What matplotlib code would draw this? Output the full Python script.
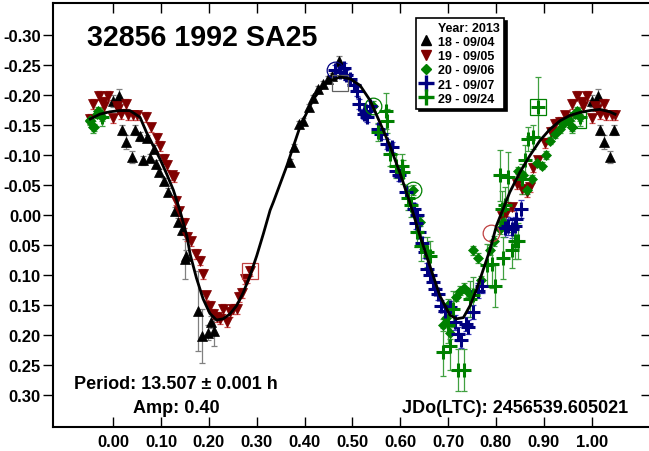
import numpy as np
import matplotlib
matplotlib.use('Agg')
import matplotlib.pyplot as plt
from matplotlib.lines import Line2D

plt.rcParams['font.family'] = ['Liberation Sans', 'DejaVu Sans']
plt.rcParams['font.weight'] = 'bold'

# session 18 - 09/04 (black up triangles)
ph18 = [0.000, 0.013, 0.018, 0.026, 0.039, 0.046, 0.055, 0.063, 0.071, 0.077, 0.085, 0.089,
        0.096, 0.106, 0.115, 0.129, 0.136, 0.144, 0.150, 0.152, 0.178, 0.185, 0.199, 0.204, 0.211,
        0.369, 0.377, 0.389, 0.396, 0.410, 0.418, 0.429, 0.439, 0.450, 0.457, 0.473]
mg18 = [-0.190, -0.198, -0.142, -0.122, -0.097, -0.142, -0.131, -0.091, -0.128, -0.095, -0.110, -0.085,
        -0.071, -0.056, -0.039, -0.007, 0.011, 0.025, 0.073, 0.068, 0.160, 0.201, 0.196, 0.179, 0.193,
        -0.089, -0.113, -0.152, -0.157, -0.180, -0.195, -0.210, -0.218, -0.227, -0.231, -0.257]
er18 = [0.010, 0.012, 0.008, 0.012, 0.010, 0.008, 0.008, 0.008, 0.006, 0.006, 0.006, 0.006,
        0.006, 0.006, 0.006, 0.006, 0.006, 0.008, 0.033, 0.010, 0.067, 0.045, 0.012, 0.010, 0.025,
        0.005, 0.005, 0.005, 0.005, 0.005, 0.005, 0.005, 0.005, 0.005, 0.005, 0.008]

# session 19 - 09/05 (maroon down triangles)
ph19 = [0.812, 0.822, 0.833, 0.845, 0.850, 0.854, 0.864, 0.871, 0.878, 0.888, 0.902, 0.916,
        0.923, 0.934, 0.944, 0.951, 0.958, 0.970, 0.979, 0.981, 0.990,
        0.000, 0.007, 0.011, 0.017, 0.026, 0.031, 0.042, 0.049, 0.069, 0.080, 0.091, 0.098,
        0.106, 0.112, 0.122, 0.127, 0.131, 0.138, 0.147, 0.155, 0.162, 0.174, 0.181, 0.187,
        0.195, 0.202, 0.208, 0.216, 0.223, 0.230, 0.237, 0.244, 0.251, 0.258, 0.264, 0.269,
        0.275, 0.280, 0.286]
mg19 = [0.001, -0.004, -0.013, -0.052, -0.063, -0.043, -0.038, -0.046, -0.079, -0.091, -0.120, -0.138,
        -0.152, -0.155, -0.166, -0.160, -0.185, -0.199, -0.188, -0.181, -0.199,
        -0.161, -0.182, -0.176, -0.168, -0.185, -0.166, -0.166, -0.166, -0.163, -0.146, -0.128, -0.115,
        -0.093, -0.083, -0.066, -0.063, -0.024, -0.006, 0.013, 0.036, 0.044, 0.065, 0.076, 0.098,
        0.134, 0.152, 0.165, 0.170, 0.173, 0.157, 0.178, 0.162, 0.157, 0.157, 0.137, 0.130,
        0.107, 0.106, 0.093]
er19 = [0.006, 0.006, 0.006, 0.008, 0.008, 0.008, 0.008, 0.008, 0.008, 0.008, 0.008, 0.008,
        0.008, 0.008, 0.008, 0.008, 0.008, 0.008, 0.008, 0.008, 0.008,
        0.008, 0.008, 0.008, 0.008, 0.008, 0.008, 0.008, 0.008, 0.008, 0.008, 0.008, 0.008,
        0.008, 0.008, 0.008, 0.008, 0.008, 0.008, 0.008, 0.008, 0.008, 0.008, 0.008, 0.008,
        0.008, 0.008, 0.008, 0.008, 0.008, 0.008, 0.008, 0.008, 0.008, 0.008, 0.008, 0.008,
        0.008, 0.008, 0.008]

# session 20 - 09/06 (green diamonds)
ph20 = [0.544, 0.627, 0.641, 0.690, 0.695, 0.700, 0.704, 0.716, 0.725, 0.733, 0.742, 0.753, 0.763,
        0.768, 0.787, 0.796, 0.808, 0.815, 0.847, 0.857, 0.865, 0.875, 0.885, 0.896, 0.905,
        0.913, 0.923, 0.934, 0.941, 0.951, 0.952, 0.958, 0.960, 0.966, 0.969, 0.976]
mg20 = [-0.182, -0.042, 0.011, 0.184, 0.172, 0.150, 0.196, 0.136, 0.126, 0.122, 0.129, 0.059, 0.072,
        0.109, 0.058, 0.043, 0.023, 0.012, -0.074, -0.066, -0.041, -0.060, -0.087, -0.082, -0.100,
        -0.124, -0.135, -0.143, -0.152, -0.156, -0.158, -0.146, -0.146, -0.168, -0.174, -0.163]
er20 = [0.008, 0.008, 0.008, 0.010, 0.010, 0.010, 0.010, 0.008, 0.008, 0.008, 0.008, 0.008, 0.008,
        0.008, 0.008, 0.008, 0.008, 0.008, 0.006, 0.006, 0.006, 0.006, 0.006, 0.006, 0.006,
        0.006, 0.006, 0.006, 0.006, 0.006, 0.006, 0.010, 0.006, 0.006, 0.006, 0.006]

# session 21 - 09/07 (navy plus)
ph21 = [0.464, 0.474, 0.482, 0.487, 0.495, 0.503, 0.510, 0.514, 0.524, 0.528, 0.531, 0.537,
        0.554, 0.559, 0.572, 0.582, 0.591, 0.598, 0.613, 0.629, 0.634, 0.633, 0.640, 0.645,
        0.652, 0.656, 0.662, 0.668, 0.673, 0.679, 0.686, 0.693, 0.704, 0.714, 0.721, 0.728,
        0.737, 0.742, 0.753, 0.763, 0.770, 0.819, 0.826, 0.833, 0.840, 0.843, 0.852]
mg21 = [-0.242, -0.238, -0.245, -0.233, -0.227, -0.216, -0.206, -0.185, -0.168, -0.174, -0.163, -0.182,
        -0.143, -0.135, -0.118, -0.113, -0.074, -0.066, -0.038, -0.010, 0.000, 0.013, 0.028, 0.046,
        0.062, 0.090, 0.100, 0.112, 0.123, 0.132, 0.151, 0.160, 0.154, 0.179, 0.198, 0.209,
        0.182, 0.187, 0.162, 0.126, 0.118, 0.021, 0.018, 0.023, 0.018, 0.007, -0.010]
er21 = [0.008, 0.008, 0.008, 0.008, 0.008, 0.008, 0.008, 0.008, 0.008, 0.008, 0.008, 0.008,
        0.008, 0.008, 0.008, 0.008, 0.010, 0.010, 0.010, 0.010, 0.010, 0.010, 0.010, 0.010,
        0.010, 0.010, 0.010, 0.010, 0.010, 0.010, 0.010, 0.010, 0.010, 0.012, 0.012, 0.012,
        0.012, 0.012, 0.012, 0.012, 0.012, 0.015, 0.015, 0.015, 0.015, 0.015, 0.015]

# session 29 - 09/24 (green plus)
ph29 = [0.554, 0.570, 0.573, 0.578, 0.592, 0.603, 0.606, 0.617, 0.622, 0.634, 0.643, 0.655,
        0.662, 0.690, 0.700, 0.704, 0.711, 0.721, 0.733, 0.746, 0.753, 0.781, 0.791, 0.798,
        0.808, 0.812, 0.814, 0.819, 0.826, 0.833, 0.840, 0.847, 0.854, 0.861, 0.868, 0.878,
        0.888, 0.976]
mg29 = [-0.138, -0.174, -0.156, -0.102, -0.082, -0.082, -0.072, -0.028, -0.016, 0.029, 0.051, 0.062,
        0.068, 0.229, 0.184, 0.218, 0.157, 0.259, 0.259, 0.140, 0.134, 0.084, 0.082, 0.118,
        -0.066, -0.010, 0.071, -0.016, -0.063, 0.059, 0.043, 0.043, -0.060, -0.091, -0.127, -0.130,
        -0.180, -0.163]
er29 = [0.015, 0.030, 0.020, 0.020, 0.020, 0.020, 0.020, 0.020, 0.020, 0.025, 0.025, 0.025,
        0.025, 0.040, 0.030, 0.040, 0.030, 0.035, 0.035, 0.030, 0.030, 0.035, 0.040, 0.035,
        0.042, 0.030, 0.035, 0.030, 0.042, 0.030, 0.030, 0.030, 0.025, 0.025, 0.020, 0.020,
        0.050, 0.015]

# Fourier fit curve
fit_ph = [-0.048, -0.028, -0.007, 0.014, 0.035, 0.056, 0.070, 0.084, 0.098, 0.112, 0.126, 0.140,
          0.154, 0.161, 0.174, 0.188, 0.202, 0.216, 0.230, 0.244, 0.258, 0.272, 0.286, 0.300,
          0.314, 0.328, 0.335, 0.363, 0.390, 0.418, 0.446, 0.474, 0.495, 0.516, 0.537, 0.557,
          0.578, 0.599, 0.620, 0.641, 0.662, 0.683, 0.704, 0.718, 0.732, 0.746, 0.760, 0.774,
          0.788, 0.801, 0.815, 0.829, 0.850, 0.871, 0.892, 0.913, 0.934, 0.955, 0.976, 0.996,
          1.017, 1.038, 1.049]
fit_mg = [-0.160, -0.168, -0.172, -0.174, -0.174, -0.163, -0.137, -0.115, -0.093, -0.068, -0.041, -0.006,
          0.035, 0.066, 0.105, 0.140, 0.164, 0.175, 0.173, 0.165, 0.151, 0.129, 0.101, 0.068,
          0.031, -0.008, -0.022, -0.082, -0.146, -0.193, -0.221, -0.230, -0.227, -0.216, -0.191, -0.155,
          -0.116, -0.071, -0.021, 0.034, 0.085, 0.135, 0.167, 0.173, 0.171, 0.151, 0.123, 0.090,
          0.057, 0.018, -0.010, -0.038, -0.071, -0.099, -0.124, -0.143, -0.157, -0.166, -0.171, -0.174,
          -0.176, -0.172, -0.168]

# highlighted points (open circles / squares)
circ_ph = [0.464, 0.544, 0.627, 0.790]
circ_mg = [-0.242, -0.182, -0.042, 0.030]
circ_col = ['#000080', '#008000', '#008000', '#c04040']
sq_ph = [0.286, 0.474, 0.888, 0.972]
sq_mg = [0.093, -0.220, -0.180, -0.158]
sq_col = ['#c04040', '#606060', '#008000', '#008000']

sessions = [
    ('18 - 09/04', ph18, mg18, er18, '^', 'black', '#808080', 7, 0),
    ('19 - 09/05', ph19, mg19, er19, 'v', '#800000', '#d05050', 7, 0),
    ('20 - 09/06', ph20, mg20, er20, 'D', '#008000', '#40a040', 5, 0),
    ('21 - 09/07', ph21, mg21, er21, '+', '#000080', '#4040c0', 10, 2.2),
    ('29 - 09/24', ph29, mg29, er29, '+', '#008000', '#40a040', 10, 2.2),
]


def wrap(ph, mg, er):
    # repeat points so the plot covers phase -0.05 .. 1.05
    p2, m2, e2 = [], [], []
    for p, m, e in zip(ph, mg, er):
        for sh in (-1, 0, 1):
            q = p + sh
            if -0.05 <= q <= 1.05:
                p2.append(q)
                m2.append(m)
                e2.append(e)
    return np.array(p2), np.array(m2), np.array(e2)


fig = plt.figure(figsize=(6.49, 4.52), dpi=100)
ax = fig.add_axes([53.4 / 649, 24 / 452, 598 / 649, 424 / 452])

handles = [Line2D([], [], linestyle='none', marker=None, label='Year: 2013')]
for lab, ph, mg, er, mk, col, ecol, ms, mew in sessions:
    p, m, e = wrap(ph, mg, er)
    ax.errorbar(p, m, yerr=e, fmt='none', ecolor=ecol, elinewidth=0.9, capsize=2.5,
                capthick=0.9, zorder=2)
    if mk == '+':
        ax.plot(p, m, linestyle='none', marker=mk, ms=ms, mew=mew, color=col, zorder=3)
        h = Line2D([], [], linestyle='none', marker=mk, ms=11, mew=2.4, color=col, label=lab)
    else:
        ax.plot(p, m, linestyle='none', marker=mk, ms=ms, mec=col, mfc=col, mew=0.5, zorder=3)
        h = Line2D([], [], linestyle='none', marker=mk, ms=7 if mk != 'D' else 5.5,
                   color=col, label=lab)
    handles.append(h)

for p, m, c in zip(circ_ph, circ_mg, circ_col):
    ax.plot(p, m, marker='o', ms=12, mfc='none', mec=c, mew=0.9, zorder=4)
for p, m, c in zip(sq_ph, sq_mg, sq_col):
    ax.plot(p, m, marker='s', ms=11, mfc='none', mec=c, mew=0.9, zorder=4)

ax.plot(fit_ph, fit_mg, color='black', linewidth=2.0, zorder=5)

ax.set_xlim(-0.125, 1.125)
ax.set_ylim(0.3533, -0.3533)
ax.set_xticks(np.arange(0, 1.001, 0.1))
ax.set_xticklabels(['%.2f' % v for v in np.arange(0, 1.001, 0.1)])
yt = np.round(np.arange(-0.30, 0.301, 0.05), 2)
ax.set_yticks(yt)
ax.set_yticklabels(['%.2f' % (v + 0.0) for v in yt])
ax.tick_params(axis='x', direction='in', top=True, length=7, width=1, pad=5, labelsize=12)
ax.tick_params(axis='y', direction='out', right=False, length=7, width=1, pad=2, labelsize=12)
for t in ax.get_xticklabels() + ax.get_yticklabels():
    t.set_fontweight('bold')
sec = ax.secondary_yaxis('right')
sec.set_yticks(yt)
sec.tick_params(direction='in', length=7, width=1, labelright=False)
for s in ax.spines.values():
    s.set_linewidth(1.5)

ax.text(0.0555, 0.920, '32856 1992 SA25', transform=ax.transAxes, fontsize=20.6,
        fontweight='bold', ha='left', va='center')
ax.text(0.205, 0.103, 'Period: 13.507 \u00b1 0.001 h', transform=ax.transAxes, fontsize=13,
        fontweight='bold', ha='center', va='center')
ax.text(0.205, 0.047, 'Amp: 0.40', transform=ax.transAxes, fontsize=13,
        fontweight='bold', ha='center', va='center')
ax.text(0.961, 0.047, 'JDo(LTC): 2456539.605021', transform=ax.transAxes, fontsize=13,
        fontweight='bold', ha='right', va='center')

leg = ax.legend(handles=handles, loc='upper left', bbox_to_anchor=(0.606, 0.965),
                prop={'weight': 'bold', 'size': 9}, frameon=True, fancybox=False,
                shadow={'color': 'black', 'alpha': 1.0}, handlelength=1.0, handletextpad=0.5,
                labelspacing=0.18, borderpad=0.3, borderaxespad=0)
leg.get_frame().set_edgecolor('black')
leg.get_frame().set_linewidth(1.2)

plt.savefig('out.png', dpi=100)
plt.close()
